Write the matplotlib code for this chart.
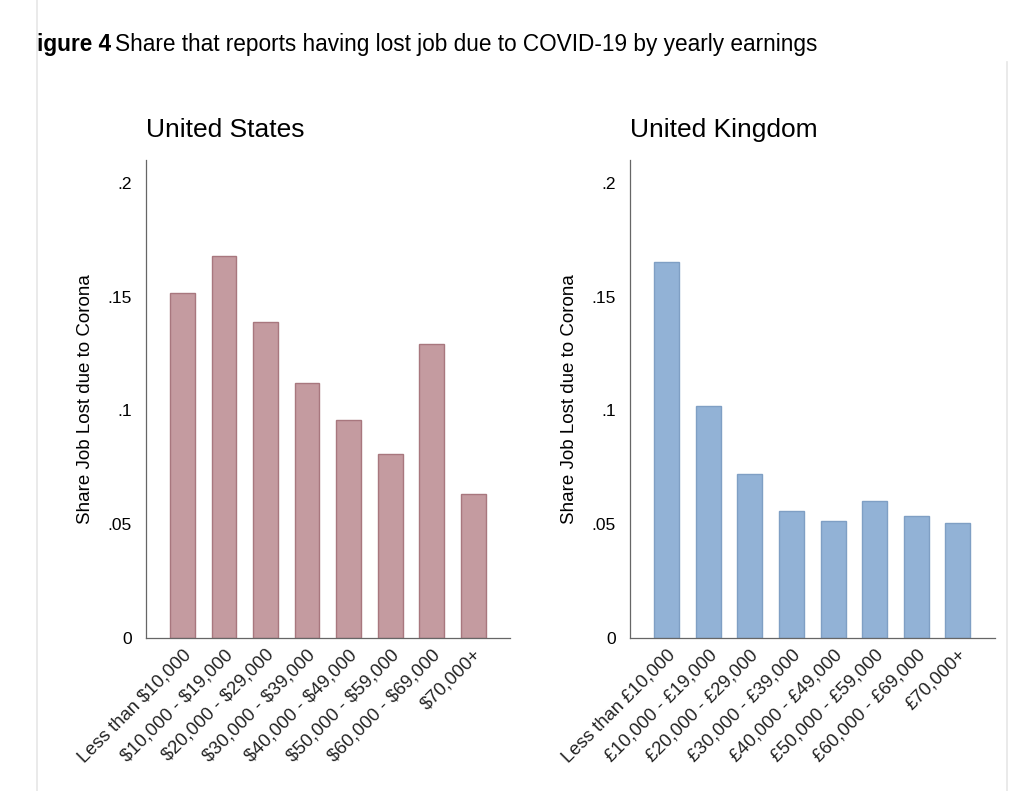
import matplotlib
matplotlib.use("Agg")
import matplotlib.pyplot as plt
from matplotlib.lines import Line2D

plt.rcParams['font.family'] = ['Liberation Sans', 'DejaVu Sans']

# earnings brackets (tick labels); "\$" keeps mathtext away
us_labels = ["Less than \\$10,000", "\\$10,000 - \\$19,000", "\\$20,000 - \\$29,000",
             "\\$30,000 - \\$39,000", "\\$40,000 - \\$49,000", "\\$50,000 - \\$59,000",
             "\\$60,000 - \\$69,000", "\\$70,000+"]
uk_labels = ["Less than £10,000", "£10,000 - £19,000", "£20,000 - £29,000",
             "£30,000 - £39,000", "£40,000 - £49,000", "£50,000 - £59,000",
             "£60,000 - £69,000", "£70,000+"]

# share reporting job lost
us_share = [0.1515, 0.168, 0.139, 0.112, 0.0957, 0.0808, 0.129, 0.0634]
uk_share = [0.165, 0.102, 0.0722, 0.0559, 0.0512, 0.060, 0.0537, 0.0505]

yticks = [0, 0.05, 0.1, 0.15, 0.2]
ytick_labels = ["0", ".05", ".1", ".15", ".2"]


def draw_panel(ax, labels, values, title, fill, edge):
    x = range(len(values))
    ax.bar(x, values, width=0.6, color=fill, edgecolor=edge, linewidth=1.0)
    ax.set_xlim(-0.88, 7.89)
    ax.set_ylim(0, 0.21)
    ax.set_yticks(yticks)
    ax.set_yticklabels(ytick_labels, fontsize=12.5)
    ax.set_xticks(list(x))
    ax.set_xticklabels(labels, rotation=45, ha="right", rotation_mode="anchor",
                       fontsize=13.3, color="#222222")
    ax.tick_params(axis="both", length=0, pad=10)
    ax.tick_params(axis="x", pad=6)
    ax.set_ylabel("Share Job Lost due to Corona", fontsize=13.5, labelpad=10)
    ax.spines["top"].set_visible(False)
    ax.spines["right"].set_visible(False)
    ax.spines["left"].set_color("#666666")
    ax.spines["bottom"].set_color("#666666")
    ax.spines["left"].set_linewidth(0.9)
    ax.spines["bottom"].set_linewidth(0.9)
    ax.text(0.0, 1.063, title, transform=ax.transAxes, fontsize=19,
            ha="left", va="center")


fig = plt.figure(figsize=(10.24, 7.91), dpi=100)

ax_us = fig.add_axes([146 / 1024, 1 - 638 / 791, 364 / 1024, 478 / 791])
draw_panel(ax_us, us_labels, us_share, "United States", "#c49ba0", "#a8777e")

ax_uk = fig.add_axes([630 / 1024, 1 - 638 / 791, 365 / 1024, 478 / 791])
draw_panel(ax_uk, uk_labels, uk_share, "United Kingdom", "#92b2d6", "#7f9fc4")

# faint page border lines
fig.add_artist(Line2D([37 / 1024, 37 / 1024], [0, 1],
                      transform=fig.transFigure, color="#e6e6e6", lw=1.2))
fig.add_artist(Line2D([1007 / 1024, 1007 / 1024], [0, 1 - 62 / 791],
                      transform=fig.transFigure, color="#e6e6e6", lw=1.2))

# figure caption (the "F" is cut off in the original screenshot)
t1 = fig.text(37 / 1024, 1 - 45 / 791, "igure 4", fontsize=16.3,
              fontweight="bold", ha="left", va="center")
fig.canvas.draw()
bb = t1.get_window_extent()
fig.text((bb.x1 + 4) / 1024, 1 - 45 / 791,
         "Share that reports having lost job due to COVID-19 by yearly earnings",
         fontsize=16.3, ha="left", va="center")

fig.savefig("out.png", dpi=100, facecolor="white")
